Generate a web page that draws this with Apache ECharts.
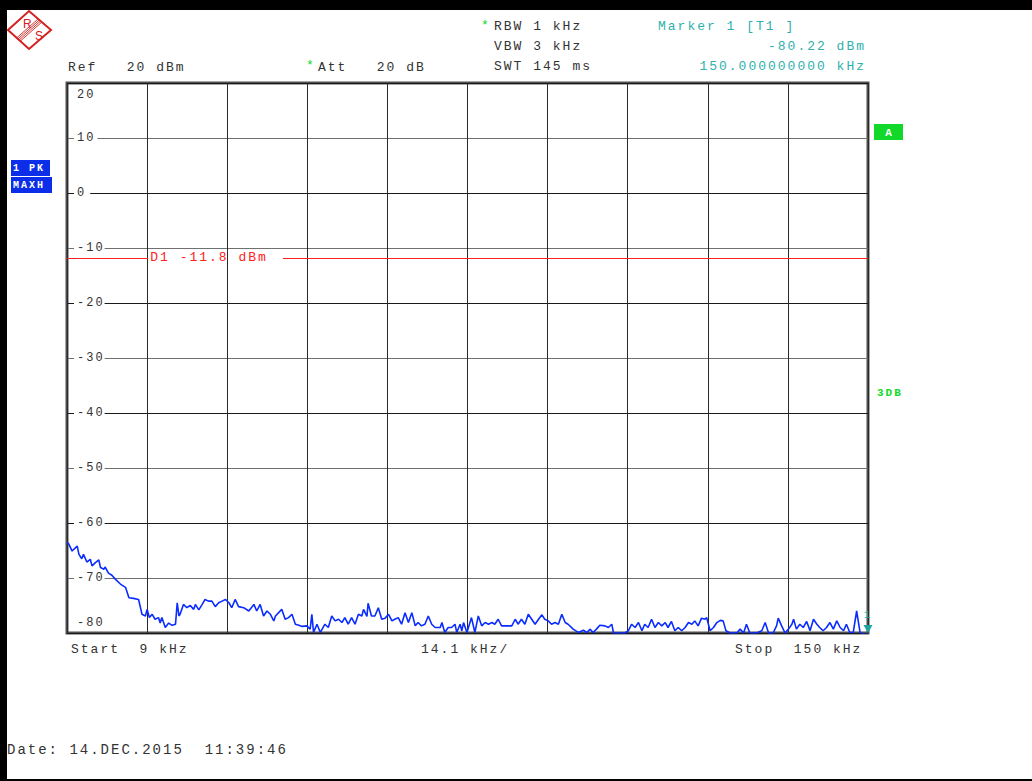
<!DOCTYPE html>
<html><head><meta charset="utf-8">
<script src="https://cdn.jsdelivr.net/npm/echarts@6/dist/echarts.min.js"></script>
<style>
html,body{margin:0;padding:0;background:#fff;}
#chart{width:1032px;height:781px;}
#chart text{letter-spacing:2px;}
</style></head><body><div id="chart"></div>
<script>
// ---- data ----
const freqKHz = [9.0,9.3,9.9,10.8,11.1,11.6,11.9,12.5,13.1,13.4,14.0,14.6,14.9,15.5,15.7,16.3,16.9,17.5,18.4,19.3,19.9,20.7,21.6,22.2,22.8,23.1,23.5,24.0,24.5,25.1,25.4,25.7,26.3,26.9,27.5,28.1,28.4,28.7,28.9,29.5,30.1,30.7,31.3,31.6,32.2,32.8,33.3,33.9,34.5,35.1,35.7,36.3,36.9,37.5,38.0,38.6,39.2,40.1,41.0,41.9,42.4,43.0,43.6,44.2,44.8,45.4,45.7,46.8,47.4,48.0,48.6,49.2,49.8,50.4,51.2,51.8,52.1,52.4,53.0,53.6,54.4,55.0,55.6,56.2,56.8,57.4,57.9,58.5,59.1,59.7,60.3,60.9,61.2,61.8,62.0,62.6,63.2,63.8,64.4,65.0,65.6,66.2,66.7,67.3,67.9,68.5,69.1,69.7,70.3,70.8,71.4,72.0,72.6,73.2,73.8,74.7,75.0,75.5,76.1,76.7,77.3,77.6,78.2,78.5,78.8,79.4,80.2,80.8,81.4,82.0,82.6,83.2,83.8,84.3,84.9,85.5,86.1,87.3,87.9,88.4,89.0,89.6,90.2,90.8,91.4,92.0,92.6,93.1,93.7,94.3,94.9,95.5,96.1,96.7,97.2,98.1,99.0,99.9,100.5,101.1,101.6,102.2,102.8,103.7,104.3,104.9,105.2,106.3,107.2,107.8,108.4,109.0,109.6,110.2,110.7,111.3,111.9,112.5,113.1,113.7,114.3,114.8,115.4,116.0,116.6,117.2,117.8,118.4,119.0,119.5,120.1,120.7,121.3,121.6,122.2,122.8,123.4,124.0,124.5,125.0,125.7,126.9,127.5,128.1,128.6,129.2,130.4,131.3,131.9,132.5,133.3,133.9,134.2,134.8,135.4,136.0,136.6,136.9,137.4,138.0,138.6,139.2,139.8,140.4,141.0,141.5,142.1,142.7,143.3,143.9,144.5,145.1,145.7,146.2,146.8,147.4,148.0,148.6,149.2,150.0];
const levelDBm = [-63.5,-63.8,-65.1,-64.2,-65.7,-66.5,-65.7,-67.1,-66.6,-67.8,-67.2,-66.7,-68.1,-68.4,-68.0,-69.1,-69.5,-70.2,-71.1,-71.7,-73.6,-73.7,-73.9,-76.6,-76.9,-75.7,-77.2,-76.6,-77.5,-77.2,-78.2,-77.2,-79.0,-78.2,-78.6,-78.4,-74.5,-76.9,-76.6,-74.8,-75.4,-75.0,-75.7,-74.8,-75.8,-74.8,-73.9,-74.2,-74.2,-75.2,-74.5,-74.2,-73.9,-74.5,-75.4,-73.9,-75.2,-75.4,-76.0,-74.8,-76.0,-74.8,-76.9,-76.0,-76.6,-77.8,-76.9,-75.7,-77.5,-77.2,-76.6,-78.4,-78.6,-78.8,-78.7,-79.3,-76.6,-79.9,-78.4,-79.9,-78.4,-79.0,-76.9,-77.8,-77.5,-78.1,-77.2,-78.4,-77.2,-78.4,-76.6,-76.9,-75.7,-77.0,-74.6,-76.9,-76.9,-75.4,-77.5,-77.3,-76.6,-77.8,-77.5,-77.2,-78.4,-76.3,-78.1,-76.3,-78.7,-78.1,-78.7,-78.4,-76.9,-78.4,-79.0,-79.0,-78.1,-79.9,-79.0,-79.0,-78.4,-79.9,-78.4,-79.6,-78.1,-79.9,-77.2,-79.9,-76.9,-78.7,-78.1,-78.4,-78.1,-78.4,-77.5,-78.7,-78.7,-78.7,-77.5,-78.4,-77.5,-78.4,-76.6,-77.5,-78.4,-77.5,-76.7,-77.5,-77.8,-78.4,-78.1,-78.4,-76.6,-78.1,-78.4,-79.3,-79.9,-79.5,-79.9,-79.3,-79.9,-79.3,-78.6,-78.7,-79.0,-78.4,-80.0,-80.0,-80.0,-79.6,-78.4,-79.0,-78.1,-79.6,-78.4,-79.0,-77.5,-79.0,-78.1,-78.7,-78.1,-79.0,-77.9,-79.6,-79.0,-79.6,-79.0,-78.1,-78.4,-77.8,-78.7,-77.3,-77.5,-77.2,-79.6,-79.0,-78.1,-77.7,-77.8,-79.6,-80.0,-80.0,-79.3,-80.0,-78.4,-80.0,-80.0,-79.6,-78.1,-80.0,-80.0,-78.7,-77.3,-78.7,-80.0,-79.3,-78.4,-77.5,-79.3,-78.4,-79.0,-77.9,-79.6,-77.5,-78.4,-79.0,-79.6,-79.0,-78.1,-79.3,-77.8,-79.0,-79.6,-78.4,-79.9,-79.9,-76.0,-79.9,-80.2,-80.22];
const startKHz = 9, stopKHz = 150, divisions = 10;
const refLevel = 20, bottomLevel = -80, levelStep = 10;
const displayLine = -11.8;
const displayLineGap = [23.3, 47.0];   // where the D1 label interrupts the line (kHz)
const markerFreq = 150, markerLevel = -80.22;

const headerLeft = ['Ref   20 dBm', 'Att   20 dB'];
const headerSetup = ['RBW 1 kHz', 'VBW 3 kHz', 'SWT 145 ms'];
const markerText = ['Marker 1 [T1 ]', '-80.22 dBm', '150.000000000 kHz'];
const footerText = ['Start  9 kHz', '14.1 kHz/', 'Stop  150 kHz'];
const dateText = 'Date: 14.DEC.2015  11:39:46';

// ---- styling ----
const MONO = "'Liberation Mono','DejaVu Sans Mono',monospace";
const INK = '#333333', TEAL = '#2fb0ad', GREEN = '#12d82a', BLUE = '#0c2ee8', RED = '#ff2020';

function txt(x, y, s, o) {
  o = o || {};
  return {type:'text', x:x, y:y, z:20, silent:true, style:{
    text:s, fill:o.color || INK, fontFamily:o.family || MONO, fontSize:o.size || 13,
    fontWeight:o.weight || 'normal', textAlign:o.align || 'left', align:o.align || 'left',
    textVerticalAlign:'middle', verticalAlign:'middle'}};
}
function rect(x, y, w, h, fill) {
  return {type:'rect', z:15, silent:true, shape:{x:x, y:y, width:w, height:h}, style:{fill:fill}};
}
function line(x1, y1, x2, y2, stroke, lw) {
  return {type:'line', z:16, silent:true, shape:{x1:x1, y1:y1, x2:x2, y2:y2}, style:{stroke:stroke, lineWidth:lw}};
}

// R&S logo band
const band = [];
[-2.4, -0.8, 0.8, 2.4].forEach(function (k) {
  const nx = 0.662, ny = 0.749;
  band.push(line(18.5 + k*nx, 39.5 + k*ny, 40 + k*nx, 20.5 + k*ny, '#d42020', 0.9));
});

const graphics = [
  rect(0, 0, 1032, 10, '#000'),
  rect(0, 0, 7, 781, '#000'),
  rect(0, 779, 1032, 2, '#000'),
  {type:'polygon', z:16, silent:true, shape:{points:[[8,30],[29,11],[51,30],[29,49]]}, style:{fill:'none', stroke:'#d42020', lineWidth:2}},
].concat(band).concat([
  txt(23, 24, 'R', {color:'#d42020', family:"'Liberation Sans',sans-serif", size:12}),
  txt(35, 36, 'S', {color:'#d42020', family:"'Liberation Sans',sans-serif", size:12}),
  txt(68, 67, headerLeft[0]),
  txt(306, 65, '*', {color:GREEN, size:13}),
  txt(318, 67, headerLeft[1]),
  txt(481, 25, '*', {color:GREEN, size:13}),
  txt(494, 26, headerSetup[0]),
  txt(494, 46, headerSetup[1]),
  txt(494, 66, headerSetup[2]),
  txt(658, 26, markerText[0], {color:TEAL}),
  txt(866, 46, markerText[1], {color:TEAL, align:'right'}),
  txt(866, 66, markerText[2], {color:TEAL, align:'right'}),
  txt(71, 649, footerText[0]),
  txt(421, 649, footerText[1]),
  txt(735, 649, footerText[2]),
  txt(7, 750, dateText, {size:14}),
  rect(11, 160, 39, 16, BLUE),
  rect(11, 177, 41, 16, BLUE),
  txt(13, 168.5, '1 PK', {color:'#fff', size:10, weight:'bold'}),
  txt(13, 185.5, 'MAXH', {color:'#fff', size:10, weight:'bold'}),
  rect(874, 124, 29, 16, GREEN),
  txt(889.5, 132.5, 'A', {color:'#fff', size:11, weight:'bold', align:'center'}),
  txt(877, 392.5, '3DB', {color:GREEN, size:11, weight:'bold'})
]);

const chart = echarts.init(document.getElementById('chart'), null, {renderer:'svg', width:1032, height:781});
chart.setOption({
  backgroundColor:'#ffffff',
  animation:false,
  grid:{left:67, top:83, width:801, height:550, show:true, borderColor:'#4f4f4f', borderWidth:3, backgroundColor:'transparent'},
  xAxis:[
    {type:'value', min:startKHz, max:stopKHz, position:'bottom', show:false},
    {type:'value', min:0, max:divisions, interval:1, position:'bottom',
      axisLine:{show:false}, axisTick:{show:false}, axisLabel:{show:false},
      splitLine:{show:true, lineStyle:{color:'#2a2a2a', width:1}}}
  ],
  yAxis:[
    {type:'value', min:bottomLevel, max:refLevel, interval:levelStep, position:'left',
      axisLine:{show:false}, axisTick:{show:false}, axisLabel:{show:false},
      splitLine:{show:true, lineStyle:{color:['#1a1a1a','#707070'], width:1}}},
    {type:'value', min:bottomLevel, max:refLevel, interval:levelStep, position:'left', z:5,
      axisLine:{show:false}, axisTick:{show:false}, splitLine:{show:false},
      axisLabel:{inside:true, margin:7, color:INK, fontFamily:MONO, fontSize:12,
        formatter:function (v) {
          if (v === refLevel) return '{t|' + v + '}';
          if (v === bottomLevel) return '{b|' + v + '}';
          return '{n|' + v + '}';
        },
        rich:{
          n:{backgroundColor:'#fff', padding:[2,6,2,3], color:INK, fontFamily:MONO, fontSize:12},
          t:{padding:[24,0,0,3], color:INK, fontFamily:MONO, fontSize:12},
          b:{padding:[0,0,20,3], color:INK, fontFamily:MONO, fontSize:12}
        }}}
  ],
  series:[{
    type:'line', xAxisIndex:0, yAxisIndex:0, z:3,
    data:freqKHz.map(function (f, i) { return [f, levelDBm[i]]; }),
    symbol:'none', showSymbol:false, clip:true,
    lineStyle:{color:'#0a2cff', width:1.6},
    markLine:{silent:true, symbol:'none', animation:false, label:{show:false},
      lineStyle:{color:RED, width:1, type:'solid'},
      data:[
        [{coord:[startKHz, displayLine]}, {coord:[displayLineGap[0], displayLine]}],
        [{coord:[displayLineGap[1], displayLine]}, {coord:[stopKHz, displayLine]}]
      ]},
    markPoint:{silent:true, animation:false, data:[
      {coord:[displayLineGap[0], displayLine], symbol:'circle', symbolSize:0,
        label:{show:true, position:'right', distance:2, formatter:'D1 ' + displayLine + ' dBm',
          color:RED, fontFamily:MONO, fontSize:13}},
      {coord:[markerFreq, Math.max(markerLevel, bottomLevel)], symbol:'triangle', symbolRotate:180, symbolSize:[9,8], symbolOffset:[0,-4],
        itemStyle:{color:'#1fa3a0'},
        label:{show:true, position:'top', distance:5, formatter:'1', color:'#1fa3a0', fontFamily:MONO, fontSize:11}}
    ]}
  }],
  graphic:graphics
});
</script></body></html>
